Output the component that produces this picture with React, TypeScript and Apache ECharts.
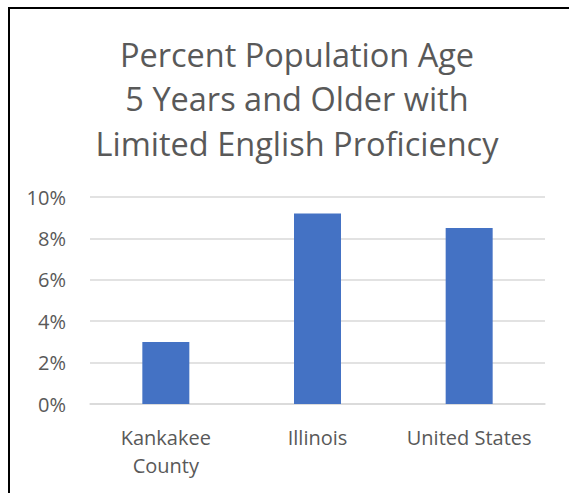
import React, { useEffect, useRef } from "react";
import * as echarts from "echarts";

const categories = ["Kankakee\nCounty", "Illinois", "United States"];
const values = [3.0, 9.2, 8.5];
const yTicks = [0, 2, 4, 6, 8, 10];
const titleLines = ["Percent Population Age", "5 Years and Older with", "Limited English Proficiency"];

export default function App() {
  const ref = useRef<HTMLDivElement>(null);
  useEffect(() => {
    if (!ref.current) return;
    const chart = echarts.init(ref.current, undefined, { renderer: "svg" });
    chart.setOption({
      animation: false,
      backgroundColor: "#ffffff",
      title: {
        text: titleLines.join("\n"),
        left: 282,
        top: 18,
        textAlign: "center",
        textStyle: {
          fontFamily: "Open Sans",
          fontSize: 32.5,
          fontWeight: "normal",
          color: "#595959",
          lineHeight: 44.5,
        },
      },
      grid: { left: 80, top: 188, width: 455, height: 207 },
      xAxis: {
        type: "category",
        data: categories,
        axisLine: { lineStyle: { color: "#d9d9d9", width: 1.5 } },
        axisTick: { show: false },
        axisLabel: {
          fontFamily: "Open Sans",
          fontSize: 20,
          color: "#595959",
          lineHeight: 28,
          margin: 19,
          interval: 0,
        },
      },
      yAxis: {
        type: "value",
        min: yTicks[0],
        max: yTicks[yTicks.length - 1],
        interval: 2,
        axisLine: { show: false },
        axisTick: { show: false },
        splitLine: { lineStyle: { color: "#d9d9d9", width: 1.5 } },
        axisLabel: {
          formatter: "{value}%",
          fontFamily: "Open Sans",
          fontSize: 20,
          color: "#595959",
          margin: 24,
        },
      },
      series: [
        {
          type: "bar",
          data: values,
          barWidth: 47,
          itemStyle: { color: "#4472c4" },
        },
      ],
    });
    return () => chart.dispose();
  }, []);
  return (
    <div
      style={{
        position: "fixed",
        left: 8,
        top: 7,
        width: 561,
        height: 486,
        borderTop: "2px solid #000",
        borderLeft: "2px solid #000",
        boxSizing: "border-box",
        background: "#fff",
      }}
    >
      <div ref={ref} style={{ width: 559, height: 484 }} />
    </div>
  );
}
